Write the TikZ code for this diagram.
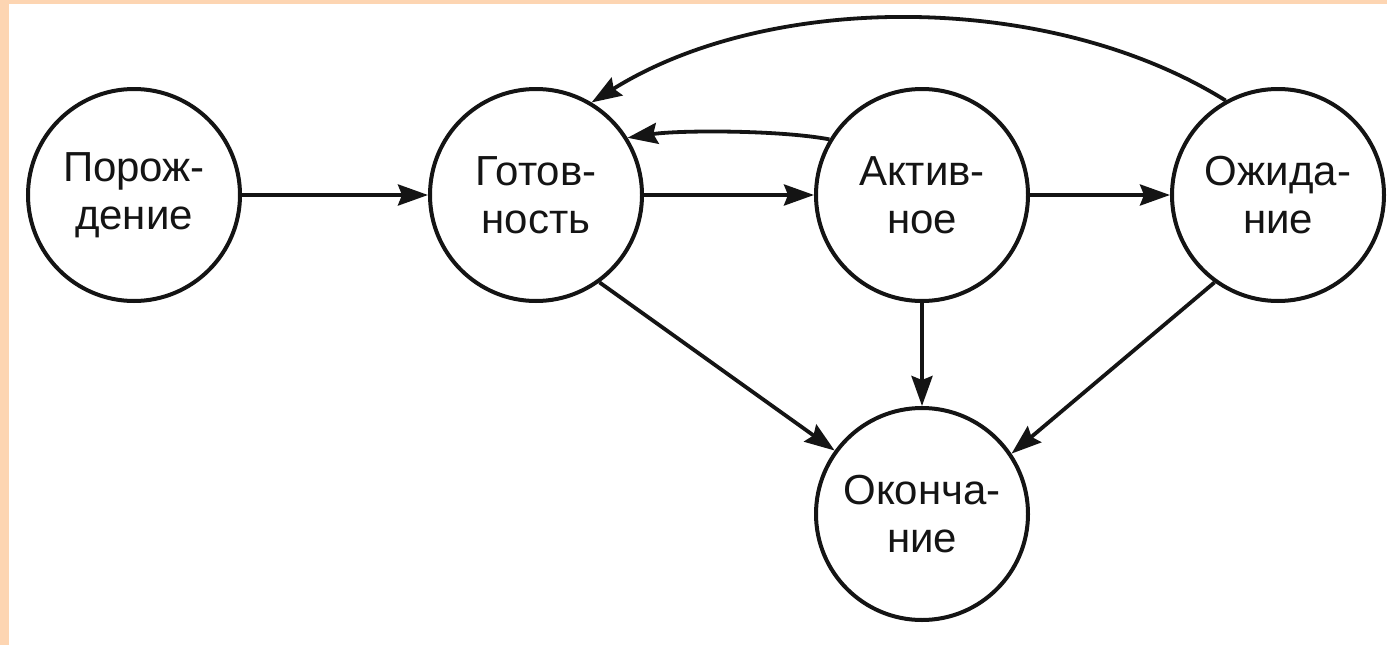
\documentclass[tikz,border=0pt]{standalone}
\usepackage{fontspec}
\setmainfont{Liberation Sans}
\usetikzlibrary{arrows.meta}
\definecolor{peach}{RGB}{253,213,178}
\definecolor{ink}{RGB}{20,20,20}
\begin{document}
\begin{tikzpicture}[x=1pt,y=-1pt,
  state/.style={circle,draw=ink,line width=4pt,minimum size=212pt,inner sep=0pt,
    align=center,text=ink,font=\fontsize{42}{48}\selectfont},
  conn/.style={draw=ink,line width=3.8pt,-{Stealth[length=30pt,width=21pt,inset=4pt]}}]
\fill[peach] (0,0) rectangle (1387,645);
\fill[white] (9,4) rectangle (1387,645);
\useasboundingbox (0,0) rectangle (1387,645);
\node[state] (A) at (134,195) {Порож-\\дение};
\node[state] (B) at (536,195) {Готов-\\ность};
\node[state] (C) at (922,195) {Актив-\\ное};
\node[state] (D) at (1278,195) {Ожида-\\ние};
\node[state] (E) at (922,514) {Оконча-\\ние};
\draw[conn] (A) -- (B);
\draw[conn] (B) -- (C);
\draw[conn] (C) -- (D);
\draw[conn] (C) -- (E);
\draw[conn] (B.-54) -- (E.144);
\draw[conn] (D.-126) -- (E.34.5);
\draw[conn] (C.149) .. controls (780,130) and (680,130) .. (B.32);
\draw[conn] (D.119) .. controls (1050,-9) and (770,-9) .. (B.59);
\end{tikzpicture}
\end{document}
